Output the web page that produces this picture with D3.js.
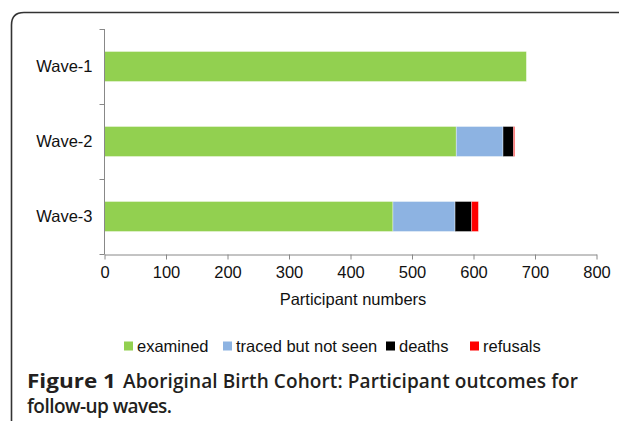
<!DOCTYPE html>
<html>
<head>
<meta charset="utf-8">
<script src="https://cdn.jsdelivr.net/npm/d3@7"></script>
<style>
  html, body { margin: 0; padding: 0; background: #fff; }
  svg { display: block; }
</style>
</head>
<body>
<div id="chart"></div>
<script>
// data
const waves = ["Wave-1", "Wave-2", "Wave-3"];
const outcomes = ["examined", "traced but not seen", "deaths", "refusals"];
const examined = [686, 572, 469];
const tracedNotSeen = [0, 76, 101];
const deaths = [0, 17, 27];
const refusals = [0, 2, 11];
const xTicks = [0, 100, 200, 300, 400, 500, 600, 700, 800];
const colors = ["#92d050", "#8db3e2", "#000000", "#ff0000"];

const W = 619, H = 421;
const FONT = "Liberation Sans, Arial, sans-serif";
const FS = "16.5px";
const svg = d3.select("#chart").append("svg").attr("width", W).attr("height", H);

// rounded frame of the figure panel
svg.append("path")
  .attr("d", "M11.5,430 L11.5,25 Q11.5,12.5 24,12.5 L640,12.5")
  .attr("fill", "none")
  .attr("stroke", "#333")
  .attr("stroke-width", 1.6);

const rows = waves.map((w, i) => ({
  wave: w,
  "examined": examined[i],
  "traced but not seen": tracedNotSeen[i],
  "deaths": deaths[i],
  "refusals": refusals[i],
}));

const x = d3.scaleLinear().domain([0, 800]).range([104.5, 596.5]);
const y = d3.scaleBand().domain(waves).range([29, 254]).paddingInner(0.6).paddingOuter(0.3);

const series = d3.stack().keys(outcomes)(rows);

svg.append("g")
  .selectAll("g")
  .data(series)
  .join("g")
  .attr("fill", (d, i) => colors[i])
  .selectAll("rect")
  .data((d) => d.filter((p) => p[1] - p[0] > 0))
  .join("rect")
  .attr("x", (d) => x(d[0]))
  .attr("y", (d) => y(d.data.wave))
  .attr("width", (d) => x(d[1]) - x(d[0]))
  .attr("height", y.bandwidth())
  .attr("stroke", "rgba(255,255,255,0.45)")
  .attr("stroke-width", 0.8);

// x axis
const xAxis = svg.append("g")
  .attr("transform", "translate(0,254.5)")
  .call(d3.axisBottom(x).tickValues(xTicks).tickSize(5).tickPadding(7).tickSizeOuter(0));
xAxis.select(".domain").attr("stroke", "#888");
xAxis.selectAll(".tick line").attr("stroke", "#888");
xAxis.selectAll("text")
  .attr("fill", "#111")
  .style("font-family", FONT)
  .style("font-size", FS);

// y axis: ticks between categories
const yAxis = svg.append("g").attr("transform", "translate(104.5,0)");
yAxis.append("line")
  .attr("x1", 0).attr("x2", 0).attr("y1", 29).attr("y2", 254.5)
  .attr("stroke", "#888");
const bounds = [29, 104, 179, 254];
yAxis.selectAll(".tk")
  .data(bounds)
  .join("line")
  .attr("x1", -5).attr("x2", 0)
  .attr("y1", (d) => d + 0.5).attr("y2", (d) => d + 0.5)
  .attr("stroke", "#888");
yAxis.selectAll("text")
  .data(waves)
  .join("text")
  .attr("x", -12)
  .attr("y", (d) => y(d) + y.bandwidth() / 2)
  .attr("dy", "0.35em")
  .attr("text-anchor", "end")
  .attr("fill", "#111")
  .style("font-family", FONT)
  .style("font-size", FS)
  .text((d) => d);

svg.append("text")
  .attr("x", 353)
  .attr("y", 305)
  .attr("text-anchor", "middle")
  .attr("fill", "#111")
  .style("font-family", FONT)
  .style("font-size", FS)
  .text("Participant numbers");

// legend
const legendX = [124, 223, 386, 470];
const legend = svg.append("g").attr("transform", "translate(0,346)");
const items = legend.selectAll("g")
  .data(outcomes)
  .join("g")
  .attr("transform", (d, i) => `translate(${legendX[i]},0)`);
items.append("rect")
  .attr("x", 0).attr("y", -4.5)
  .attr("width", 9).attr("height", 9)
  .attr("fill", (d, i) => colors[i]);
items.append("text")
  .attr("x", 13)
  .attr("dy", "0.35em")
  .attr("fill", "#111")
  .style("font-family", FONT)
  .style("font-size", FS)
  .text((d) => d);

// caption
const capFont = "Open Sans, Noto Sans, sans-serif";
svg.append("text")
  .attr("x", 27).attr("y", 388)
  .attr("fill", "#231f20")
  .attr("font-weight", "bold")
  .attr("textLength", 89)
  .attr("lengthAdjust", "spacingAndGlyphs")
  .style("font-family", capFont)
  .style("font-size", "19px")
  .text("Figure 1");
svg.append("text")
  .attr("x", 123).attr("y", 388)
  .attr("fill", "#231f20")
  .attr("font-weight", "600")
  .attr("textLength", 455)
  .style("font-family", capFont)
  .style("font-size", "19px")
  .text("Aboriginal Birth Cohort: Participant outcomes for");
svg.append("text")
  .attr("x", 27).attr("y", 413)
  .attr("fill", "#231f20")
  .attr("font-weight", "600")
  .attr("textLength", 145)
  .style("font-family", capFont)
  .style("font-size", "19px")
  .text("follow-up waves.");
</script>
</body>
</html>
